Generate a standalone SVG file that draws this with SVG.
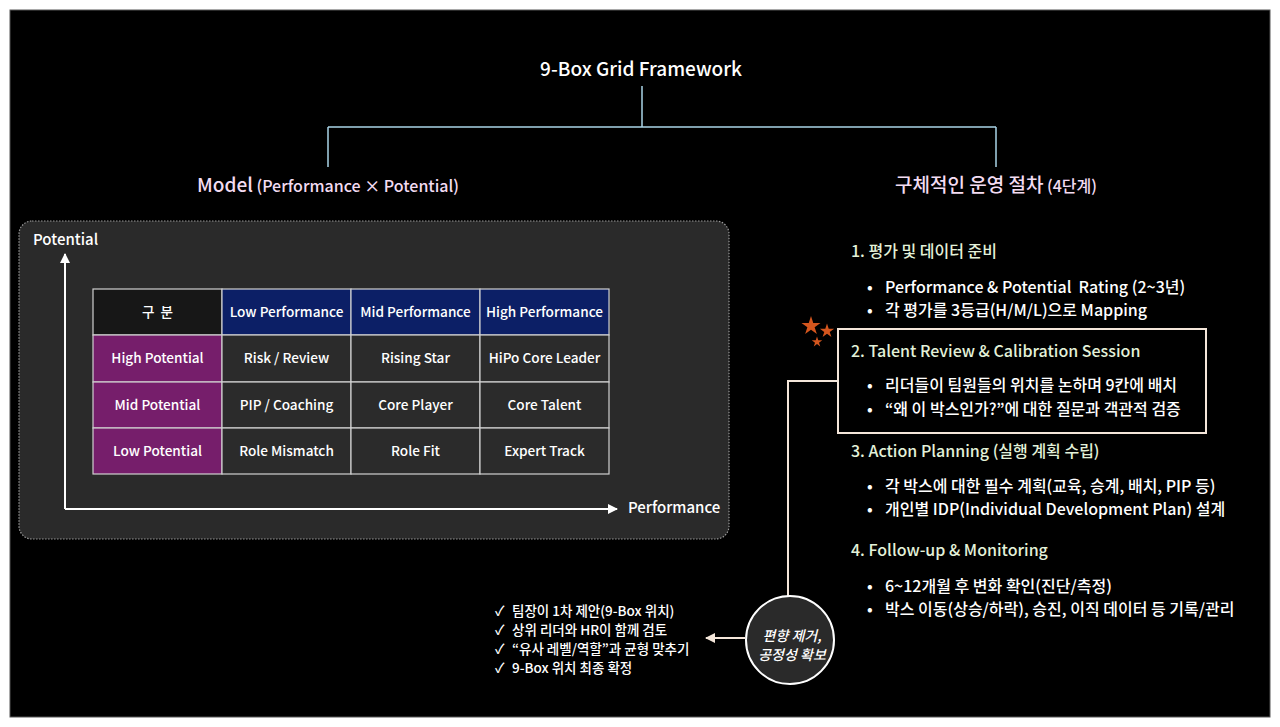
<svg xmlns="http://www.w3.org/2000/svg" width="1280" height="727" viewBox="0 0 1280 727">
<defs>
<style>
text{font-family:"Noto Sans CJK KR","Noto Sans",sans-serif;font-weight:500;}
.tree{stroke:#a9d3e6;stroke-width:1.5;fill:none;}
.cell{stroke:#d0d0d0;stroke-width:1.2;}
.ct{fill:#ffffff;font-size:13.6px;text-anchor:middle;}
.h{fill:#e3f1d9;font-size:16px;}
.b{fill:#ffffff;font-size:16px;}
.ck{fill:#ffffff;font-size:13.5px;}
.ax{stroke:#ffffff;stroke-width:2;fill:none;}
</style>
<marker id="ah" viewBox="0 0 10 10" refX="9" refY="5" markerWidth="5" markerHeight="5" orient="auto-start-reverse">
<path d="M0,0 L10,5 L0,10 z" fill="#ffffff"/>
</marker>
<marker id="ah2" viewBox="0 0 10 10" refX="9" refY="5" markerWidth="5" markerHeight="5" orient="auto-start-reverse">
<path d="M0,0 L10,5 L0,10 z" fill="#f4e6da"/>
</marker>
<path id="star" d="M0,-1 L0.225,-0.309 L0.951,-0.309 L0.363,0.118 L0.588,0.809 L0,0.382 L-0.588,0.809 L-0.363,0.118 L-0.951,-0.309 L-0.225,-0.309 Z"/>
</defs>
<rect x="0" y="0" width="1280" height="727" fill="#ffffff"/>
<rect x="10" y="10" width="1260" height="707" fill="#000000" stroke="#555" stroke-width="1"/>

<g id="connectors">
<path class="tree" d="M642,86 V127 M328,127 H996 M328,127 V167 M996,127 V167"/>
<path d="M838,381 H788 V597" stroke="#f4e6da" stroke-width="2" fill="none"/>
<line x1="745" y1="638" x2="706" y2="638" stroke="#f4e6da" stroke-width="2" marker-end="url(#ah2)"/>
</g>

<g id="title">
<text x="641" y="76" fill="#ffffff" font-size="19" text-anchor="middle">9-Box Grid Framework</text>
</g>

<g id="model-label">
<text x="328" y="192" fill="#f3dcf2" text-anchor="middle"><tspan font-size="19">Model</tspan><tspan font-size="16"> (Performance × Potential)</tspan></text>
</g>

<g id="process-label">
<text x="996" y="192" fill="#f3dcf2" text-anchor="middle"><tspan font-size="19">구체적인 운영 절차</tspan><tspan font-size="16"> (4단계)</tspan></text>
</g>

<g id="model-panel">
<rect x="19" y="221" width="710" height="318" rx="13" fill="#2a2a2a" stroke="#9a9a9a" stroke-width="1.2" stroke-dasharray="1.5 1.5"/>
<text x="33" y="245" fill="#ffffff" font-size="15">Potential</text>
<text x="628" y="513" fill="#ffffff" font-size="15">Performance</text>
<line class="ax" x1="65" y1="509" x2="65" y2="254" marker-end="url(#ah)"/>
<line class="ax" x1="65" y1="509" x2="617" y2="509" marker-end="url(#ah)"/>
</g>

<g id="grid">
<rect class="cell" x="93" y="289" width="129" height="46" fill="#171717"/>
<rect class="cell" x="222" y="289" width="129" height="46" fill="#0c1f66"/>
<rect class="cell" x="351" y="289" width="129" height="46" fill="#0c1f66"/>
<rect class="cell" x="480" y="289" width="129" height="46" fill="#0c1f66"/>
<rect class="cell" x="93" y="335" width="129" height="47" fill="#761e6b"/>
<rect class="cell" x="93" y="382" width="129" height="46" fill="#761e6b"/>
<rect class="cell" x="93" y="428" width="129" height="46" fill="#761e6b"/>
<rect class="cell" x="222" y="335" width="129" height="47" fill="#2b2b2b"/>
<rect class="cell" x="351" y="335" width="129" height="47" fill="#2b2b2b"/>
<rect class="cell" x="480" y="335" width="129" height="47" fill="#2b2b2b"/>
<rect class="cell" x="222" y="382" width="129" height="46" fill="#2b2b2b"/>
<rect class="cell" x="351" y="382" width="129" height="46" fill="#2b2b2b"/>
<rect class="cell" x="480" y="382" width="129" height="46" fill="#2b2b2b"/>
<rect class="cell" x="222" y="428" width="129" height="46" fill="#2b2b2b"/>
<rect class="cell" x="351" y="428" width="129" height="46" fill="#2b2b2b"/>
<rect class="cell" x="480" y="428" width="129" height="46" fill="#2b2b2b"/>
<text class="ct" x="157.5" y="317" xml:space="preserve">구  분</text>
<text class="ct" x="286.5" y="317">Low Performance</text>
<text class="ct" x="415.5" y="317">Mid Performance</text>
<text class="ct" x="544.5" y="317">High Performance</text>
<text class="ct" x="157.5" y="363">High Potential</text>
<text class="ct" x="286.5" y="363">Risk / Review</text>
<text class="ct" x="415.5" y="363">Rising Star</text>
<text class="ct" x="544.5" y="363">HiPo Core Leader</text>
<text class="ct" x="157.5" y="410">Mid Potential</text>
<text class="ct" x="286.5" y="410">PIP / Coaching</text>
<text class="ct" x="415.5" y="410">Core Player</text>
<text class="ct" x="544.5" y="410">Core Talent</text>
<text class="ct" x="157.5" y="456">Low Potential</text>
<text class="ct" x="286.5" y="456">Role Mismatch</text>
<text class="ct" x="415.5" y="456">Role Fit</text>
<text class="ct" x="544.5" y="456">Expert Track</text>
</g>

<g id="step1">
<text class="h" x="851" y="257">1. 평가 및 데이터 준비</text>
<text class="b" x="867" y="293">•</text>
<text class="b" x="885" y="293" xml:space="preserve">Performance &amp; Potential  Rating (2~3년)</text>
<text class="b" x="867" y="316">•</text>
<text class="b" x="885" y="316">각 평가를 3등급(H/M/L)으로 Mapping</text>
</g>

<g id="step2">
<rect x="838" y="329" width="368" height="104" fill="none" stroke="#f4e6da" stroke-width="2"/>
<text class="h" x="851" y="357">2. Talent Review &amp; Calibration Session</text>
<text class="b" x="867" y="391">•</text>
<text class="b" x="885" y="391">리더들이 팀원들의 위치를 논하며 9칸에 배치</text>
<text class="b" x="867" y="415">•</text>
<text class="b" x="885" y="415">“왜 이 박스인가?”에 대한 질문과 객관적 검증</text>
</g>

<g id="stars" fill="#d4561e">
<use href="#star" transform="translate(811,326) scale(10)"/>
<use href="#star" transform="translate(827,331) scale(7.5)"/>
<use href="#star" transform="translate(817,342) scale(5.5)"/>
</g>

<g id="step3">
<text class="h" x="851" y="457">3. Action Planning (실행 계획 수립)</text>
<text class="b" x="867" y="492">•</text>
<text class="b" x="885" y="492">각 박스에 대한 필수 계획(교육, 승계, 배치, PIP 등)</text>
<text class="b" x="867" y="515">•</text>
<text class="b" x="885" y="515">개인별 IDP(Individual Development Plan) 설계</text>
</g>

<g id="step4">
<text class="h" x="851" y="556">4. Follow-up &amp; Monitoring</text>
<text class="b" x="867" y="592">•</text>
<text class="b" x="885" y="592">6~12개월 후 변화 확인(진단/측정)</text>
<text class="b" x="867" y="615">•</text>
<text class="b" x="885" y="615">박스 이동(상승/하락), 승진, 이직 데이터 등 기록/관리</text>
</g>

<g id="bias-circle">
<circle cx="790" cy="640" r="44" fill="#2a2a2a" stroke="#ffffff" stroke-width="2"/>
<text x="792" y="641" fill="#ffffff" font-size="14" font-style="italic" text-anchor="middle">편향 제거,</text>
<text x="792" y="660" fill="#ffffff" font-size="14" font-style="italic" text-anchor="middle">공정성 확보</text>
</g>

<g id="checklist">
<text class="ck" x="495" y="616">✓</text>
<text class="ck" x="512" y="616">팀장이 1차 제안(9-Box 위치)</text>
<text class="ck" x="495" y="635">✓</text>
<text class="ck" x="512" y="635">상위 리더와 HR이 함께 검토</text>
<text class="ck" x="495" y="654">✓</text>
<text class="ck" x="512" y="654">“유사 레벨/역할”과 균형 맞추기</text>
<text class="ck" x="495" y="673">✓</text>
<text class="ck" x="512" y="673">9-Box 위치 최종 확정</text>
</g>
</svg>
